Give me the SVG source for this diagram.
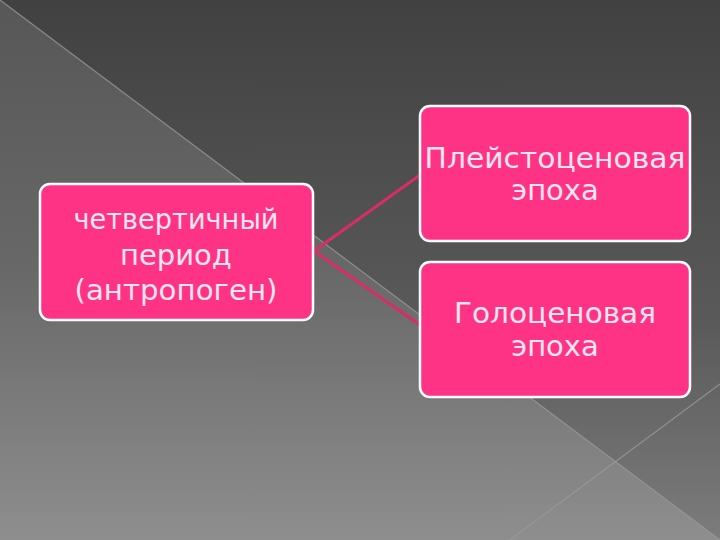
<svg xmlns="http://www.w3.org/2000/svg" width="720" height="540" viewBox="0 0 720 540">
<defs>
<linearGradient id="bg" x1="0" y1="0" x2="0" y2="1">
<stop offset="0" stop-color="#575757"/>
<stop offset="0.5" stop-color="#686868"/>
<stop offset="1" stop-color="#8e8e8e"/>
</linearGradient>
<linearGradient id="dark" x1="0" y1="0" x2="0" y2="1">
<stop offset="0" stop-color="#414141"/>
<stop offset="0.6" stop-color="#5a5a5a"/>
<stop offset="1" stop-color="#7c7c7c"/>
</linearGradient>
<style>
.box{fill:#ff3385;stroke:#ffffff;stroke-width:2.5}
.lbl{font-family:"DejaVu Sans","Liberation Sans",sans-serif;font-size:29px;fill:#fde6f0;text-anchor:middle}
.conn{stroke:#d82d68;stroke-width:3;fill:none}
.bgl{stroke:#9a9a9a;stroke-width:1.2;fill:none;opacity:0.8}
</style>
</defs>
<rect width="720" height="540" fill="url(#bg)"/>
<polygon points="0,0 720,0 720,540" fill="url(#dark)"/>
<line class="bgl" x1="0" y1="0" x2="720" y2="540"/>
<line class="bgl" x1="720" y1="384" x2="510" y2="540"/>
<g id="connectors">
<line class="conn" x1="314" y1="251" x2="420" y2="175"/>
<line class="conn" x1="314" y1="251" x2="420" y2="325"/>
</g>
<g id="node-period">
<rect class="box" x="40" y="184" width="273" height="136" rx="10"/>
<text class="lbl"><tspan x="176" y="229" textLength="205" lengthAdjust="spacingAndGlyphs">четвертичный</tspan><tspan x="176" y="265">период</tspan><tspan x="176" y="300" textLength="203" lengthAdjust="spacingAndGlyphs">(антропоген)</tspan></text>
</g>
<g id="node-pleistocene">
<rect class="box" x="420" y="106" width="270" height="135" rx="10"/>
<text class="lbl"><tspan x="555" y="168" textLength="261" lengthAdjust="spacingAndGlyphs">Плейстоценовая</tspan><tspan x="555" y="200">эпоха</tspan></text>
</g>
<g id="node-holocene">
<rect class="box" x="420" y="262" width="270" height="135" rx="10"/>
<text class="lbl"><tspan x="555" y="323" textLength="202" lengthAdjust="spacingAndGlyphs">Голоценовая</tspan><tspan x="555" y="356">эпоха</tspan></text>
</g>
</svg>
